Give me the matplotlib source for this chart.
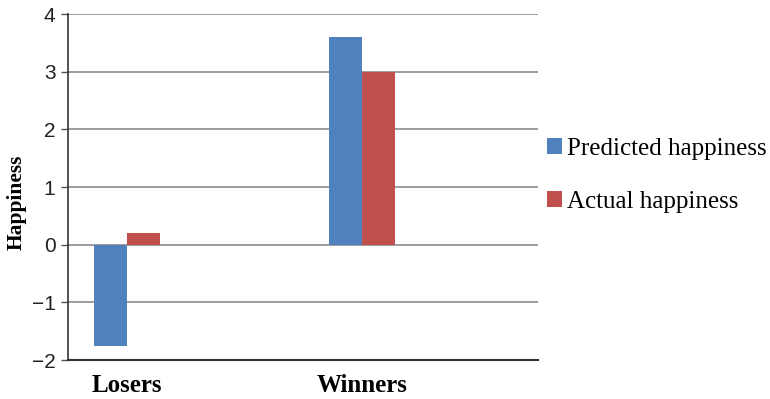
#!/usr/bin/python

import numpy as np
import matplotlib
matplotlib.use("Agg")
import matplotlib.pyplot as plt

# data
groups    = ["Losers", "Winners"]
predicted = [-1.75, 3.6]
actual    = [0.2, 3.0]
series    = ["Predicted happiness", "Actual happiness"]
yticks    = [-2, -1, 0, 1, 2, 3, 4]

blue = "#4F81BD"
red  = "#C0504D"

fig = plt.figure(figsize=(7.7, 3.99), dpi=100)
ax = fig.add_axes([0.0883, 0.0977, 0.6104, 0.867])

x = np.arange(len(groups))
w = 0.14
ax.bar(x - w/2, predicted, w, color=blue, label=series[0], zorder=3)
ax.bar(x + w/2, actual, w, color=red, label=series[1], zorder=3)

ax.set_xlim(-0.25, 1.75)
ax.set_ylim(-2, 4)
ax.set_yticks(yticks)
ax.set_yticklabels([str(v).replace("-", "\u2212") for v in yticks],
                   family="Liberation Sans", fontsize=15, color="#222222")
ax.yaxis.grid(True, color="#8c8c8c", linewidth=1.2, zorder=0)

ax.set_xticks(x)
ax.set_xticklabels(groups, family="Liberation Serif", fontweight="bold", fontsize=18)
ax.tick_params(axis="x", length=0, pad=10)
ax.tick_params(axis="y", length=5, width=1, color="#555555", pad=4)

ax.set_ylabel("Happiness", family="Liberation Serif", fontweight="bold", fontsize=15.5)
ax.yaxis.set_label_coords(-0.087, 0.455)

for s in ["top", "right"]:
    ax.spines[s].set_visible(False)
ax.spines["left"].set_color("#333333")
ax.spines["bottom"].set_color("#333333")
ax.spines["left"].set_linewidth(1.2)
ax.spines["bottom"].set_linewidth(1.5)

leg = fig.legend(loc="center left", bbox_to_anchor=(0.711, 0.56), frameon=False,
                 prop={"family": "Liberation Serif", "size": 18},
                 handlelength=0.6, handleheight=0.6, handletextpad=0.2,
                 labelspacing=1.25, borderpad=0, borderaxespad=0)

fig.savefig("out.png", dpi=100)
